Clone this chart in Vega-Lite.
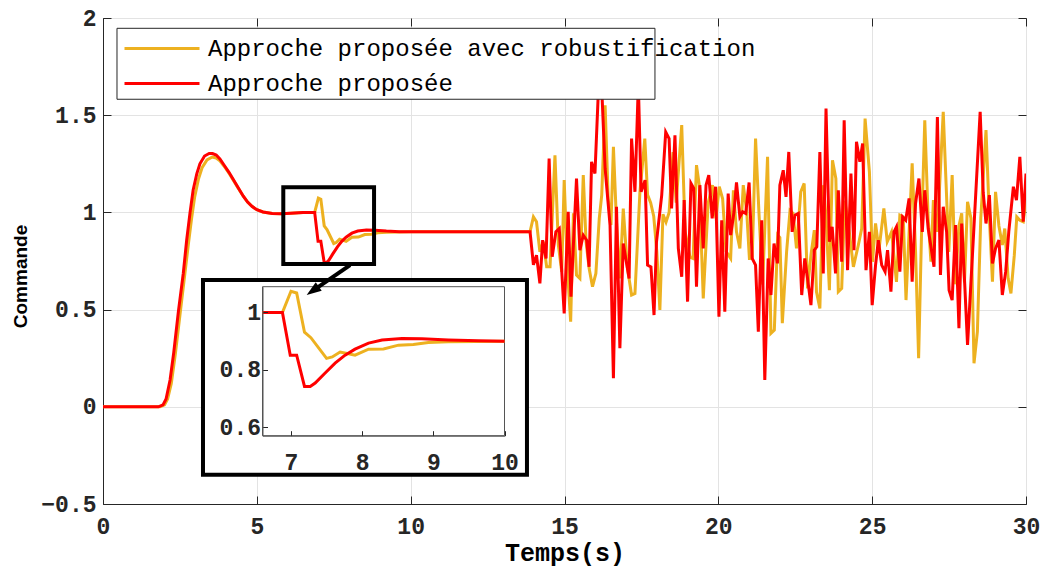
{
  "$schema": "https://vega.github.io/schema/vega-lite/v6.json",
  "width": 923,
  "height": 486,
  "autosize": {"type": "none"},
  "padding": {"left": 103, "top": 18, "right": 17, "bottom": 64},
  "background": "white",
  "config": {
    "view": {"stroke": "#262626", "strokeWidth": 1},
    "axis": {"labelFont": "Liberation Mono", "labelFontWeight": "bold", "labelFontSize": 23, "labelColor": "#262626", "tickColor": "#262626", "domainColor": "#262626", "gridColor": "#e3e3e3", "titleColor": "#000000", "labelOverlap": false, "labelFlush": false}
  },
  "datasets": {
    "curves": [
      {"s":"R","t":0,"v":0},{"s":"R","t":1.85,"v":0},{"s":"R","t":2.0,"v":0.01},{"s":"R","t":2.1,"v":0.04},{"s":"R","t":2.22,"v":0.12},{"s":"R","t":2.35,"v":0.27},{"s":"R","t":2.5,"v":0.47},{"s":"R","t":2.65,"v":0.67},{"s":"R","t":2.77,"v":0.83},{"s":"R","t":2.88,"v":0.97},{"s":"R","t":2.98,"v":1.08},{"s":"R","t":3.1,"v":1.17},{"s":"R","t":3.22,"v":1.23},{"s":"R","t":3.38,"v":1.27},{"s":"R","t":3.55,"v":1.285},{"s":"R","t":3.68,"v":1.28},{"s":"R","t":3.8,"v":1.265},{"s":"R","t":3.95,"v":1.235},{"s":"R","t":4.1,"v":1.2},{"s":"R","t":4.24,"v":1.165},{"s":"R","t":4.4,"v":1.123},{"s":"R","t":4.56,"v":1.083},{"s":"R","t":4.7,"v":1.053},{"s":"R","t":4.85,"v":1.03},{"s":"R","t":5.0,"v":1.014},{"s":"R","t":5.2,"v":1.002},{"s":"R","t":5.5,"v":0.994},{"s":"R","t":5.8,"v":0.993},{"s":"R","t":6.1,"v":0.996},{"s":"R","t":6.5,"v":0.999},{"s":"R","t":6.6,"v":1.0},{"s":"R","t":6.88,"v":1.0},{"s":"R","t":7.0,"v":1.074},{"s":"R","t":7.08,"v":1.068},{"s":"R","t":7.19,"v":0.931},{"s":"R","t":7.28,"v":0.912},{"s":"R","t":7.5,"v":0.84},{"s":"R","t":7.58,"v":0.845},{"s":"R","t":7.69,"v":0.862},{"s":"R","t":7.79,"v":0.857},{"s":"R","t":7.9,"v":0.851},{"s":"R","t":8.09,"v":0.872},{"s":"R","t":8.3,"v":0.873},{"s":"R","t":8.51,"v":0.886},{"s":"R","t":8.72,"v":0.888},{"s":"R","t":8.93,"v":0.895},{"s":"R","t":9.21,"v":0.898},{"s":"R","t":10,"v":0.9},{"s":"R","t":13.88,"v":0.9},
      {"s":"R","t":13.99,"v":0.977},{"s":"R","t":14.09,"v":0.952},{"s":"R","t":14.2,"v":0.797},{"s":"R","t":14.31,"v":0.849},{"s":"R","t":14.42,"v":0.72},{"s":"R","t":14.53,"v":0.72},{"s":"R","t":14.69,"v":1.294},{"s":"R","t":14.8,"v":0.832},{"s":"R","t":14.91,"v":0.695},{"s":"R","t":14.99,"v":1.166},{"s":"R","t":15.1,"v":0.695},{"s":"R","t":15.2,"v":0.438},{"s":"R","t":15.29,"v":0.995},{"s":"R","t":15.39,"v":0.678},{"s":"R","t":15.5,"v":0.66},{"s":"R","t":15.61,"v":1.192},{"s":"R","t":15.7,"v":0.849},{"s":"R","t":15.8,"v":0.712},{"s":"R","t":15.91,"v":0.618},{"s":"R","t":16.02,"v":0.686},{"s":"R","t":16.13,"v":0.969},{"s":"R","t":16.21,"v":1.089},{"s":"R","t":16.32,"v":1.551},{"s":"R","t":16.42,"v":1.07},{"s":"R","t":16.51,"v":0.935},{"s":"R","t":16.59,"v":1.337},{"s":"R","t":16.69,"v":0.95},{"s":"R","t":16.8,"v":0.66},{"s":"R","t":16.91,"v":1.02},{"s":"R","t":17.04,"v":0.72},{"s":"R","t":17.18,"v":0.575},{"s":"R","t":17.29,"v":0.583},{"s":"R","t":17.45,"v":1.1},{"s":"R","t":17.61,"v":1.38},{"s":"R","t":17.7,"v":1.09},{"s":"R","t":17.8,"v":1.05},{"s":"R","t":17.9,"v":0.98},{"s":"R","t":18.0,"v":0.8},{"s":"R","t":18.1,"v":0.498},{"s":"R","t":18.2,"v":0.99},{"s":"R","t":18.3,"v":0.95},{"s":"R","t":18.4,"v":1.0},{"s":"R","t":18.53,"v":1.31},{"s":"R","t":18.63,"v":1.05},{"s":"R","t":18.81,"v":1.449},{"s":"R","t":18.92,"v":0.9},{"s":"R","t":19.08,"v":0.77},{"s":"R","t":19.18,"v":0.763},{"s":"R","t":19.29,"v":1.243},{"s":"R","t":19.38,"v":1.14},{"s":"R","t":19.51,"v":0.558},{"s":"R","t":19.67,"v":1.05},{"s":"R","t":19.81,"v":1.14},{"s":"R","t":19.92,"v":0.969},{"s":"R","t":20.03,"v":1.132},{"s":"R","t":20.14,"v":1.07},{"s":"R","t":20.25,"v":0.8},{"s":"R","t":20.4,"v":0.763},{"s":"R","t":20.49,"v":1.114},{"s":"R","t":20.59,"v":0.9},{"s":"R","t":20.7,"v":0.815},{"s":"R","t":20.81,"v":1.14},{"s":"R","t":20.92,"v":1.01},{"s":"R","t":21.01,"v":0.763},{"s":"R","t":21.1,"v":0.763},{"s":"R","t":21.21,"v":1.38},{"s":"R","t":21.32,"v":1.0},{"s":"R","t":21.44,"v":0.63},{"s":"R","t":21.6,"v":1.286},{"s":"R","t":21.71,"v":0.378},{"s":"R","t":21.82,"v":0.395},{"s":"R","t":21.93,"v":0.883},{"s":"R","t":22.0,"v":0.87},{"s":"R","t":22.08,"v":0.43},{"s":"R","t":22.22,"v":0.8},{"s":"R","t":22.33,"v":1.01},{"s":"R","t":22.43,"v":0.995},{"s":"R","t":22.54,"v":0.815},{"s":"R","t":22.68,"v":1.106},{"s":"R","t":22.79,"v":1.149},{"s":"R","t":22.9,"v":0.609},{"s":"R","t":23.01,"v":0.78},{"s":"R","t":23.12,"v":0.909},{"s":"R","t":23.19,"v":0.592},{"s":"R","t":23.3,"v":0.506},{"s":"R","t":23.41,"v":1.14},{"s":"R","t":23.5,"v":0.98},{"s":"R","t":23.61,"v":0.6},{"s":"R","t":23.71,"v":1.268},{"s":"R","t":23.82,"v":1.174},{"s":"R","t":23.9,"v":0.592},{"s":"R","t":24.01,"v":0.609},{"s":"R","t":24.11,"v":1.06},{"s":"R","t":24.22,"v":0.95},{"s":"R","t":24.39,"v":0.72},{"s":"R","t":24.55,"v":0.832},{"s":"R","t":24.66,"v":0.917},{"s":"R","t":24.77,"v":1.483},{"s":"R","t":24.91,"v":1.209},{"s":"R","t":25.01,"v":0.746},{"s":"R","t":25.11,"v":0.943},{"s":"R","t":25.22,"v":0.806},{"s":"R","t":25.38,"v":1.02},{"s":"R","t":25.49,"v":0.849},{"s":"R","t":25.63,"v":0.9},{"s":"R","t":25.79,"v":0.643},{"s":"R","t":25.9,"v":0.986},{"s":"R","t":26.01,"v":0.977},{"s":"R","t":26.1,"v":0.549},{"s":"R","t":26.21,"v":0.93},{"s":"R","t":26.3,"v":1.252},{"s":"R","t":26.41,"v":0.8},{"s":"R","t":26.51,"v":0.25},{"s":"R","t":26.61,"v":0.93},{"s":"R","t":26.71,"v":1.474},{"s":"R","t":26.82,"v":0.97},{"s":"R","t":26.91,"v":0.746},{"s":"R","t":26.99,"v":1.063},{"s":"R","t":27.12,"v":0.9},{"s":"R","t":27.31,"v":1.517},{"s":"R","t":27.49,"v":0.797},{"s":"R","t":27.6,"v":1.192},{"s":"R","t":27.71,"v":0.63},{"s":"R","t":27.82,"v":0.93},{"s":"R","t":27.91,"v":0.995},{"s":"R","t":28.0,"v":0.64},{"s":"R","t":28.1,"v":1.054},{"s":"R","t":28.21,"v":0.97},{"s":"R","t":28.31,"v":0.224},{"s":"R","t":28.42,"v":0.386},{"s":"R","t":28.53,"v":0.97},{"s":"R","t":28.7,"v":1.423},{"s":"R","t":28.81,"v":0.97},{"s":"R","t":28.91,"v":0.643},{"s":"R","t":29.01,"v":1.106},{"s":"R","t":29.12,"v":0.93},{"s":"R","t":29.23,"v":0.832},{"s":"R","t":29.31,"v":0.917},{"s":"R","t":29.42,"v":0.66},{"s":"R","t":29.51,"v":0.583},{"s":"R","t":29.62,"v":0.78},{"s":"R","t":29.7,"v":0.977},{"s":"R","t":29.8,"v":0.96},{"s":"R","t":29.91,"v":0.952},{"s":"R","t":30.0,"v":1.072},
      {"s":"P","t":0,"v":0},{"s":"P","t":1.8,"v":0},{"s":"P","t":1.95,"v":0.01},{"s":"P","t":2.05,"v":0.04},{"s":"P","t":2.18,"v":0.138},{"s":"P","t":2.3,"v":0.28},{"s":"P","t":2.45,"v":0.49},{"s":"P","t":2.61,"v":0.687},{"s":"P","t":2.72,"v":0.858},{"s":"P","t":2.83,"v":1.0},{"s":"P","t":2.93,"v":1.115},{"s":"P","t":3.05,"v":1.2},{"s":"P","t":3.15,"v":1.25},{"s":"P","t":3.3,"v":1.29},{"s":"P","t":3.45,"v":1.303},{"s":"P","t":3.56,"v":1.303},{"s":"P","t":3.68,"v":1.295},{"s":"P","t":3.8,"v":1.275},{"s":"P","t":3.95,"v":1.24},{"s":"P","t":4.1,"v":1.205},{"s":"P","t":4.24,"v":1.168},{"s":"P","t":4.4,"v":1.125},{"s":"P","t":4.56,"v":1.083},{"s":"P","t":4.7,"v":1.053},{"s":"P","t":4.85,"v":1.03},{"s":"P","t":5.0,"v":1.014},{"s":"P","t":5.2,"v":1.002},{"s":"P","t":5.5,"v":0.994},{"s":"P","t":5.8,"v":0.993},{"s":"P","t":6.1,"v":0.996},{"s":"P","t":6.5,"v":0.999},{"s":"P","t":6.6,"v":1.0},{"s":"P","t":6.88,"v":1.0},{"s":"P","t":6.99,"v":0.851},{"s":"P","t":7.08,"v":0.851},{"s":"P","t":7.19,"v":0.742},{"s":"P","t":7.27,"v":0.742},{"s":"P","t":7.34,"v":0.754},{"s":"P","t":7.48,"v":0.789},{"s":"P","t":7.62,"v":0.823},{"s":"P","t":7.76,"v":0.851},{"s":"P","t":7.9,"v":0.872},{"s":"P","t":8.09,"v":0.893},{"s":"P","t":8.28,"v":0.904},{"s":"P","t":8.56,"v":0.909},{"s":"P","t":8.84,"v":0.908},{"s":"P","t":9.21,"v":0.904},{"s":"P","t":9.63,"v":0.901},{"s":"P","t":10,"v":0.9},{"s":"P","t":13.88,"v":0.9},
      {"s":"P","t":13.99,"v":0.73},{"s":"P","t":14.09,"v":0.78},{"s":"P","t":14.2,"v":0.635},{"s":"P","t":14.29,"v":0.857},{"s":"P","t":14.4,"v":0.763},{"s":"P","t":14.5,"v":1.277},{"s":"P","t":14.6,"v":0.772},{"s":"P","t":14.72,"v":0.9},{"s":"P","t":14.83,"v":0.917},{"s":"P","t":14.99,"v":0.48},{"s":"P","t":15.12,"v":1.003},{"s":"P","t":15.21,"v":0.566},{"s":"P","t":15.39,"v":1.174},{"s":"P","t":15.5,"v":0.806},{"s":"P","t":15.61,"v":0.883},{"s":"P","t":15.72,"v":0.857},{"s":"P","t":15.8,"v":0.72},{"s":"P","t":15.88,"v":1.26},{"s":"P","t":15.99,"v":1.2},{"s":"P","t":16.1,"v":1.62},{"s":"P","t":16.21,"v":1.64},{"s":"P","t":16.32,"v":1.226},{"s":"P","t":16.48,"v":0.935},{"s":"P","t":16.59,"v":0.147},{"s":"P","t":16.69,"v":1.029},{"s":"P","t":16.8,"v":0.301},{"s":"P","t":16.91,"v":0.84},{"s":"P","t":17.1,"v":0.66},{"s":"P","t":17.18,"v":1.38},{"s":"P","t":17.29,"v":1.106},{"s":"P","t":17.4,"v":1.66},{"s":"P","t":17.49,"v":1.106},{"s":"P","t":17.62,"v":1.166},{"s":"P","t":17.7,"v":0.729},{"s":"P","t":17.81,"v":0.72},{"s":"P","t":17.91,"v":0.472},{"s":"P","t":17.99,"v":0.849},{"s":"P","t":18.16,"v":1.089},{"s":"P","t":18.29,"v":1.414},{"s":"P","t":18.4,"v":1.38},{"s":"P","t":18.48,"v":1.02},{"s":"P","t":18.59,"v":1.397},{"s":"P","t":18.7,"v":0.815},{"s":"P","t":18.81,"v":0.669},{"s":"P","t":18.89,"v":1.063},{"s":"P","t":19.0,"v":0.541},{"s":"P","t":19.11,"v":1.149},{"s":"P","t":19.2,"v":1.123},{"s":"P","t":19.29,"v":0.618},{"s":"P","t":19.4,"v":1.14},{"s":"P","t":19.51,"v":0.815},{"s":"P","t":19.6,"v":1.14},{"s":"P","t":19.69,"v":1.192},{"s":"P","t":19.8,"v":0.969},{"s":"P","t":19.91,"v":1.132},{"s":"P","t":20.02,"v":0.464},{"s":"P","t":20.11,"v":0.96},{"s":"P","t":20.21,"v":0.489},{"s":"P","t":20.32,"v":1.097},{"s":"P","t":20.4,"v":0.883},{"s":"P","t":20.51,"v":1.003},{"s":"P","t":20.59,"v":1.154},{"s":"P","t":20.7,"v":0.977},{"s":"P","t":20.79,"v":1.003},{"s":"P","t":20.89,"v":0.995},{"s":"P","t":21.0,"v":1.154},{"s":"P","t":21.1,"v":0.763},{"s":"P","t":21.21,"v":0.729},{"s":"P","t":21.3,"v":0.386},{"s":"P","t":21.41,"v":0.96},{"s":"P","t":21.51,"v":0.138},{"s":"P","t":21.62,"v":0.763},{"s":"P","t":21.71,"v":0.575},{"s":"P","t":21.81,"v":0.84},{"s":"P","t":21.92,"v":0.738},{"s":"P","t":22.0,"v":1.14},{"s":"P","t":22.11,"v":1.217},{"s":"P","t":22.2,"v":1.08},{"s":"P","t":22.29,"v":1.311},{"s":"P","t":22.4,"v":0.9},{"s":"P","t":22.49,"v":0.986},{"s":"P","t":22.6,"v":0.995},{"s":"P","t":22.71,"v":0.575},{"s":"P","t":22.81,"v":0.763},{"s":"P","t":22.9,"v":0.66},{"s":"P","t":23.01,"v":0.523},{"s":"P","t":23.12,"v":0.806},{"s":"P","t":23.2,"v":0.823},{"s":"P","t":23.3,"v":1.311},{"s":"P","t":23.41,"v":0.686},{"s":"P","t":23.5,"v":1.534},{"s":"P","t":23.61,"v":0.849},{"s":"P","t":23.7,"v":0.926},{"s":"P","t":23.81,"v":0.686},{"s":"P","t":23.9,"v":1.114},{"s":"P","t":24.01,"v":0.746},{"s":"P","t":24.09,"v":1.474},{"s":"P","t":24.2,"v":0.703},{"s":"P","t":24.31,"v":1.2},{"s":"P","t":24.41,"v":0.806},{"s":"P","t":24.49,"v":1.363},{"s":"P","t":24.6,"v":1.26},{"s":"P","t":24.69,"v":1.354},{"s":"P","t":24.8,"v":0.703},{"s":"P","t":24.91,"v":0.9},{"s":"P","t":25.0,"v":0.523},{"s":"P","t":25.11,"v":0.729},{"s":"P","t":25.2,"v":0.857},{"s":"P","t":25.31,"v":0.729},{"s":"P","t":25.42,"v":0.695},{"s":"P","t":25.5,"v":0.806},{"s":"P","t":25.61,"v":0.592},{"s":"P","t":25.71,"v":0.9},{"s":"P","t":25.79,"v":0.926},{"s":"P","t":25.9,"v":0.695},{"s":"P","t":25.99,"v":0.977},{"s":"P","t":26.09,"v":0.96},{"s":"P","t":26.2,"v":1.072},{"s":"P","t":26.3,"v":0.643},{"s":"P","t":26.41,"v":1.046},{"s":"P","t":26.52,"v":1.174},{"s":"P","t":26.63,"v":0.9},{"s":"P","t":26.71,"v":1.114},{"s":"P","t":26.82,"v":0.917},{"s":"P","t":27.01,"v":0.72},{"s":"P","t":27.12,"v":1.491},{"s":"P","t":27.22,"v":0.678},{"s":"P","t":27.31,"v":1.029},{"s":"P","t":27.42,"v":0.9},{"s":"P","t":27.5,"v":0.6},{"s":"P","t":27.6,"v":0.549},{"s":"P","t":27.71,"v":0.935},{"s":"P","t":27.82,"v":0.404},{"s":"P","t":27.91,"v":0.943},{"s":"P","t":28.01,"v":0.626},{"s":"P","t":28.1,"v":0.318},{"s":"P","t":28.3,"v":0.9},{"s":"P","t":28.51,"v":1.517},{"s":"P","t":28.61,"v":1.1},{"s":"P","t":28.7,"v":0.943},{"s":"P","t":28.81,"v":1.089},{"s":"P","t":28.91,"v":0.738},{"s":"P","t":29.01,"v":0.815},{"s":"P","t":29.12,"v":0.857},{"s":"P","t":29.23,"v":0.575},{"s":"P","t":29.34,"v":0.695},{"s":"P","t":29.44,"v":0.9},{"s":"P","t":29.59,"v":1.132},{"s":"P","t":29.69,"v":1.063},{"s":"P","t":29.8,"v":1.286},{"s":"P","t":29.91,"v":0.952},{"s":"P","t":30.0,"v":1.2}
    ],
    "arrow": [{"xs": 8.03, "ys": 0.729, "xe": 6.99, "ye": 0.616, "xt": 6.62, "yt": 0.575}]
  },
  "layer": [
    {
      "layer": [
        {
          "data": {"name": "curves"},
          "mark": {"type": "line", "strokeWidth": 3, "clip": true},
          "encoding": {
            "x": {"field": "t", "type": "quantitative", "scale": {"domain": [0, 30], "nice": false, "zero": false},
              "axis": {"orient": "bottom", "values": [0, 5, 10, 15, 20, 25, 30], "format": "~g", "grid": true, "tickSize": -8, "labelPadding": 19,
                "title": "Temps(s)", "titleFont": "Liberation Mono", "titleFontWeight": "bold", "titleFontSize": 25, "titleY": 56, "titleBaseline": "alphabetic"}},
            "y": {"field": "v", "type": "quantitative", "scale": {"domain": [-0.5, 2], "nice": false, "zero": false},
              "axis": {"orient": "left", "values": [-0.5, 0, 0.5, 1, 1.5, 2], "format": "~g", "grid": true, "tickSize": -8, "labelPadding": 15,
                "title": "Commande", "titleFont": "Liberation Sans", "titleFontWeight": "bold", "titleFontSize": 19, "titleX": -83, "titleY": 258, "titleAlign": "center", "titleBaseline": "middle", "titleAngle": -90}},
            "color": {"field": "s", "type": "nominal", "scale": {"domain": ["R", "P"], "range": ["#EDB120", "#FF0000"]},
              "legend": {"orient": "none", "legendX": 45, "legendY": 16.5, "title": null, "symbolType": "M-3,0L3,0", "symbolSize": 625, "symbolStrokeWidth": 3,
                "labelFont": "Liberation Mono", "labelFontSize": 24, "labelColor": "#000000", "labelLimit": 0, "labelOffset": 32, "rowPadding": 9, "padding": 0,
                "labelExpr": "datum.value == 'R' ? 'Approche proposée avec robustification' : 'Approche proposée'"}}
          }
        },
        {
          "data": {"values": [{"x1": 0.455, "x2": 17.94, "y1": 1.582, "y2": 1.947}]},
          "mark": {"type": "rect", "fill": "white", "stroke": "#262626", "strokeWidth": 1},
          "encoding": {"x": {"field": "x1", "type": "quantitative"}, "x2": {"field": "x2"}, "y": {"field": "y1", "type": "quantitative"}, "y2": {"field": "y2"}}
        },
        {
          "data": {"values": [{"x1": 5.86, "x2": 8.81, "y1": 0.734, "y2": 1.13}]},
          "mark": {"type": "rect", "fill": null, "fillOpacity": 0, "stroke": "#000000", "strokeWidth": 4},
          "encoding": {"x": {"field": "x1", "type": "quantitative"}, "x2": {"field": "x2"}, "y": {"field": "y1", "type": "quantitative"}, "y2": {"field": "y2"}}
        },
        {
          "data": {"values": [{"x1": 3.25, "x2": 13.78, "y1": -0.35, "y2": 0.652}]},
          "mark": {"type": "rect", "fill": "white", "stroke": "#000000", "strokeWidth": 4},
          "encoding": {"x": {"field": "x1", "type": "quantitative"}, "x2": {"field": "x2"}, "y": {"field": "y1", "type": "quantitative"}, "y2": {"field": "y2"}}
        }
      ]
    },
    {
      "layer": [
        {
          "data": {"values": [{"a": 6.6, "b": 10, "c": 0.57, "d": 1.09}]},
          "mark": {"type": "rect", "fill": null, "fillOpacity": 0, "stroke": "#555555", "strokeWidth": 1},
          "encoding": {
            "x": {"field": "a", "type": "quantitative", "scale": {"domain": [6.6, 10], "range": [159.5, 401.5], "nice": false, "zero": false},
              "axis": {"orient": "bottom", "offset": -68.3, "values": [7, 8, 9, 10], "format": "~g", "grid": false, "tickSize": -5, "labelPadding": 21, "title": null, "zindex": 1, "domainColor": "#555555"}},
            "x2": {"field": "b"},
            "y": {"field": "c", "type": "quantitative", "scale": {"domain": [0.57, 1.09], "range": [417.7, 268.7], "nice": false, "zero": false},
              "axis": {"orient": "left", "offset": -159.5, "values": [0.6, 0.8, 1], "format": "~g", "grid": false, "tickSize": -5, "labelPadding": 7, "title": null, "zindex": 1, "domainColor": "#555555"}},
            "y2": {"field": "d"}
          }
        },
        {
          "data": {"name": "curves"},
          "transform": [{"filter": {"field": "t", "range": [6.6, 10]}}],
          "mark": {"type": "line", "strokeWidth": 3},
          "encoding": {
            "x": {"field": "t", "type": "quantitative"},
            "y": {"field": "v", "type": "quantitative"},
            "color": {"field": "s", "type": "nominal"}
          }
        }
      ]
    },
    {
      "data": {"name": "arrow"},
      "layer": [
        {
          "mark": {"type": "rule", "stroke": "#000000", "strokeWidth": 4},
          "encoding": {
            "x": {"field": "xs", "type": "quantitative", "scale": {"domain": [0, 30], "nice": false, "zero": false},
              "axis": {"orient": "top", "values": [0, 5, 10, 15, 20, 25, 30], "labels": false, "domain": false, "grid": false, "tickSize": -8, "title": null}},
            "y": {"field": "ys", "type": "quantitative", "scale": {"domain": [-0.5, 2], "nice": false, "zero": false},
              "axis": {"orient": "right", "values": [-0.5, 0, 0.5, 1, 1.5, 2], "labels": false, "domain": false, "grid": false, "tickSize": -8, "title": null}},
            "x2": {"field": "xe"},
            "y2": {"field": "ye"}
          }
        },
        {
          "mark": {"type": "point", "shape": "M0,0L-0.6,1.7L0.6,1.7Z", "filled": true, "color": "#000000", "opacity": 1, "size": 300, "angle": 235},
          "encoding": {
            "x": {"field": "xt", "type": "quantitative"},
            "y": {"field": "yt", "type": "quantitative"}
          }
        }
      ]
    }
  ],
  "resolve": {"scale": {"x": "independent", "y": "independent"}, "axis": {"x": "independent", "y": "independent"}}
}
